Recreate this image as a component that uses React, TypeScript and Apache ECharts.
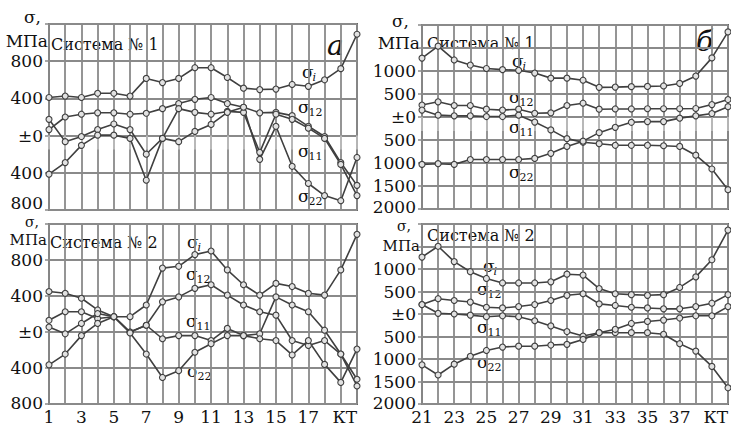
import React, { useEffect, useRef } from 'react';
import * as echarts from 'echarts';

// Stages (categories)
const stagesA = ['1','2','3','4','5','6','7','8','9','10','11','12','13','14','15','16','17','18','19','КТ'];
const stagesB = ['21','22','23','24','25','26','27','28','29','30','31','32','33','34','35','36','37','38','39','КТ'];

// Panel а, Система № 1
const sigmaI_1a = [410, 425, 410, 455, 455, 425, 615, 570, 615, 730, 730, 625, 510, 495, 500, 550, 530, 600, 720, 1090];
const sigma12_1a = [65, 200, 230, 245, 245, 230, 240, 290, 345, 390, 410, 345, 305, 245, 250, 215, 100, -10, -290, -535];
const sigma11_1a = [175, -65, -10, 65, 125, 65, -200, -30, 290, 250, 230, 260, 250, -180, 230, 175, 80, -30, -310, -645];
const sigma22_1a = [-415, -290, -105, 5, 5, -30, -480, -30, -65, 45, 120, 250, 305, -255, 100, -330, -515, -645, -700, -235];

// Panel а, Система № 2
const sigmaI_2a = [450, 430, 375, 245, 170, 170, 300, 710, 730, 860, 900, 690, 525, 410, 540, 505, 430, 410, 690, 1085];
const sigma12_2a = [130, 225, 225, 150, 170, 0, 75, 335, 390, 485, 525, 410, 300, 225, 187, -95, -150, -95, -245, -525];
const sigma11_2a = [55, -20, 95, 205, 170, 0, 75, -75, -40, -40, -95, 40, -40, -20, 390, 300, 225, 20, -245, -600];
const sigma22_2a = [-365, -245, -40, 95, 170, -10, -245, -505, -430, -225, -130, -40, -40, -75, -95, -255, -95, -360, -560, -190];

// Panel б, Система № 1
const sigmaI_1b = [1280, 1540, 1240, 1130, 1055, 1030, 1015, 955, 845, 845, 800, 645, 650, 660, 665, 675, 730, 890, 1285, 1850];
const sigma12_1b = [260, 330, 250, 250, 170, 150, 170, 80, 90, 250, 300, 170, 175, 175, 180, 180, 180, 185, 270, 380];
const sigma11_1b = [150, 40, 25, 25, 10, 10, 40, -110, -280, -470, -550, -580, -615, -615, -615, -625, -640, -830, -1130, -1580];
const sigma22_1b = [-1030, -1015, -1030, -925, -925, -925, -925, -900, -790, -640, -525, -340, -225, -115, -100, -100, -25, 25, 75, 225];

// Panel б, Система № 2
const sigmaI_2b = [1265, 1505, 1165, 940, 790, 690, 690, 690, 715, 885, 865, 565, 450, 430, 415, 430, 590, 825, 1205, 1865];
const sigma12_2b = [210, 340, 300, 265, 150, 135, 165, 210, 300, 415, 450, 225, 190, 150, 135, 115, 115, 165, 240, 430];
const sigma11_2b = [210, 15, 0, -25, -60, -40, -60, -150, -265, -390, -490, -415, -415, -415, -415, -450, -660, -825, -1165, -1640];
const sigma22_2b = [-1130, -1355, -1115, -940, -810, -735, -715, -715, -690, -675, -565, -415, -340, -210, -165, -135, -90, -40, -40, 165];

const FONT = 'DejaVu Serif';
const GRID_C = '#8a8a8a';
const LINE_C = '#404040';

export default function App() {
  const ref = useRef<HTMLDivElement>(null);
  useEffect(() => {
    const chart = echarts.init(ref.current!, null, { renderer: 'svg' });

    const grids = [
      { left: 49, top: 24, width: 308, height: 186 },
      { left: 49, top: 224, width: 308, height: 180 },
      { left: 422, top: 25, width: 306, height: 184 },
      { left: 422, top: 224, width: 306, height: 180 },
    ].map((g) => ({ ...g, show: true, borderColor: '#666', borderWidth: 2 }));

    const mkX = (i: number, data: string[], top: boolean) => ({
      gridIndex: i,
      type: 'category',
      data,
      boundaryGap: false,
      axisLine: { show: false },
      axisTick: { show: top, length: 14, interval: 0, lineStyle: { color: '#c4c4c4', width: 1.5 } },
      axisLabel: {
        show: !top,
        interval: (idx: number) => (idx % 2 === 0 && idx <= 16) || idx === data.length - 1,
        fontFamily: FONT,
        fontSize: 17,
        color: '#111',
        margin: 4,
        alignMaxLabel: 'right',
      },
      splitLine: { show: true, interval: 0, lineStyle: { color: GRID_C, width: 1.8 } },
    });

    const mkFmt = (min: number, hideFrom: number) => (v: number) => {
      if (v === 0) return '±0';
      if (v >= hideFrom) return '';
      if (v === min) return '{lo|' + Math.abs(v) + '}';
      return String(Math.abs(v));
    };

    const mkY = (i: number, min: number, max: number, interval: number, hideFrom: number, loPad: number) => ({
      gridIndex: i,
      type: 'value',
      min,
      max,
      interval,
      axisLine: { show: false },
      axisTick: { show: true, length: 4, lineStyle: { color: GRID_C, width: 1.5 } },
      axisLabel: {
        formatter: mkFmt(min, hideFrom),
        fontFamily: FONT,
        fontSize: 17,
        lineHeight: 17,
        color: '#111',
        margin: 6,
        rich: { lo: { fontFamily: FONT, fontSize: 17, lineHeight: 17, color: '#111', padding: [0, 0, loPad, 0] } },
      },
      splitLine: { show: true, lineStyle: { color: GRID_C, width: 1.8 } },
    });

    const mkS = (data: number[], i: number) => ({
      type: 'line',
      xAxisIndex: i,
      yAxisIndex: i,
      data,
      symbol: 'circle',
      symbolSize: 6,
      showSymbol: true,
      silent: true,
      lineStyle: { color: LINE_C, width: 1.6 },
      itemStyle: { color: '#e2e2e2', borderColor: LINE_C, borderWidth: 1.1 },
      emphasis: { disabled: true },
    });

    const txt = (x: number, y: number, text: string, fontSize: number, align = 'left', italic = false) => ({
      type: 'text',
      x,
      y,
      silent: true,
      style: {
        text,
        fontFamily: FONT,
        fontSize,
        lineHeight: fontSize,
        fontStyle: italic ? 'italic' : 'normal',
        fill: '#111',
        align,
        verticalAlign: 'middle',
      },
    });

    const sig = (x: number, y: number, sub: string, italicSub = false) => [
      txt(x, y, 'σ', 17),
      txt(x + 10.5, y + 5, sub, 11, 'left', italicSub),
    ];

    const graphics = [
      // Panel а, 1
      txt(41, 17, 'σ,', 17, 'right'),
      txt(48, 41, 'МПа', 17, 'right'),
      txt(51, 44, 'Система № 1', 16),
      txt(327, 45, 'a', 28, 'left', true),
      ...sig(302, 72, 'i', true),
      ...sig(298, 107, '12'),
      ...sig(298, 151, '11'),
      ...sig(298, 196, '22'),
      // Panel а, 2
      txt(39, 222, 'σ,', 14, 'right'),
      txt(47, 240, 'МПа', 15, 'right'),
      txt(50, 242, 'Система № 2', 16),
      ...sig(187, 242, 'i', true),
      ...sig(186, 274, '12'),
      ...sig(186, 321, '11'),
      ...sig(187, 371, '22'),
      // Panel б, 1
      txt(409, 21, 'σ,', 17, 'right'),
      txt(420, 43, 'МПа', 17, 'right'),
      txt(427, 43, 'Система № 1', 16),
      txt(696, 41, 'б', 28, 'left', true),
      ...sig(512, 61, 'i', true),
      ...sig(509, 97, '12'),
      ...sig(509, 127, '11'),
      ...sig(509, 172, '22'),
      // Panel б, 2
      txt(411, 226, 'σ,', 14, 'right'),
      txt(420, 246, 'МПа', 15, 'right'),
      txt(427, 235, 'Система № 2', 16),
      ...sig(483, 266, 'i', true),
      ...sig(477, 289, '12'),
      ...sig(477, 327, '11'),
      ...sig(477, 362, '22'),
    ];

    chart.setOption({
      animation: false,
      backgroundColor: '#fff',
      grid: grids,
      xAxis: [mkX(0, stagesA, true), mkX(1, stagesA, false), mkX(2, stagesB, true), mkX(3, stagesB, false)],
      yAxis: [
        mkY(0, -800, 1200, 400, 1200, 14),
        mkY(1, -800, 1200, 400, 1200, 2),
        mkY(2, -2000, 2000, 500, 1500, 4),
        mkY(3, -2000, 2000, 500, 1500, 2),
      ],
      series: [
        mkS(sigmaI_1a, 0), mkS(sigma12_1a, 0), mkS(sigma11_1a, 0), mkS(sigma22_1a, 0),
        mkS(sigmaI_2a, 1), mkS(sigma12_2a, 1), mkS(sigma11_2a, 1), mkS(sigma22_2a, 1),
        mkS(sigmaI_1b, 2), mkS(sigma12_1b, 2), mkS(sigma11_1b, 2), mkS(sigma22_1b, 2),
        mkS(sigmaI_2b, 3), mkS(sigma12_2b, 3), mkS(sigma11_2b, 3), mkS(sigma22_2b, 3),
      ],
      graphic: graphics,
    });
    return () => chart.dispose();
  }, []);
  return (
    <div
      ref={ref}
      style={{ position: 'fixed', left: 0, top: 0, width: 731, height: 429, background: '#fff' }}
    />
  );
}
